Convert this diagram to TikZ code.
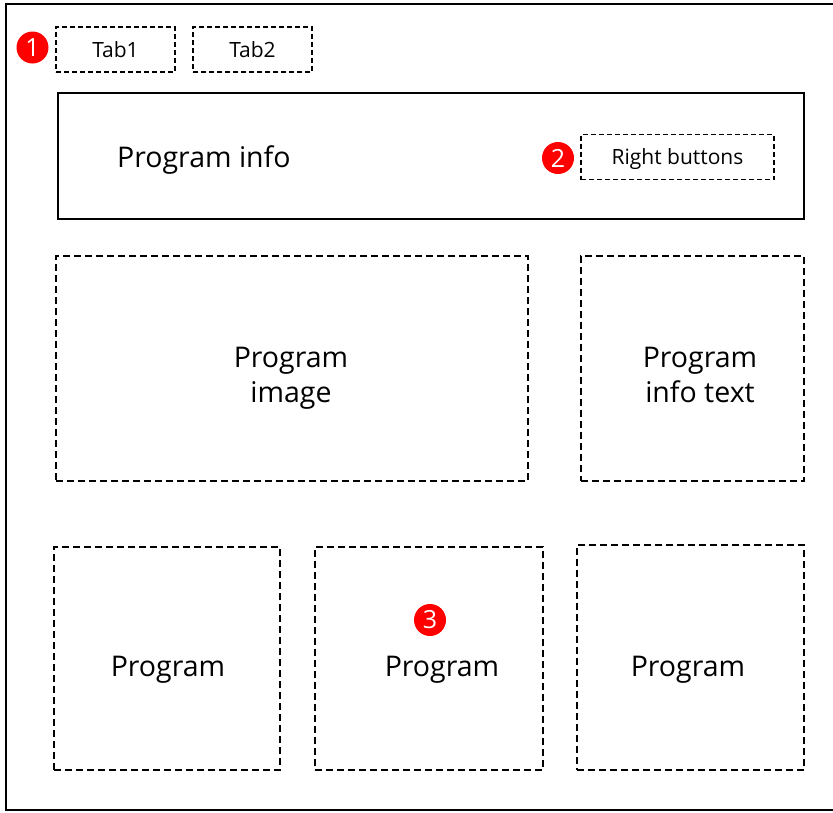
\documentclass[tikz,border=0pt]{standalone}
\usepackage{fontspec}
\setmainfont{Open Sans}
\usepackage{tikz}

\tikzset{
  tabbox/.style={draw, line width=1.4pt, dash pattern=on 5pt off 3pt,
    minimum width=119pt, minimum height=45pt, inner sep=0pt,
    text height=15pt, text depth=0pt, font=\fontsize{21}{24}\selectfont},
  slotbox/.style={draw, line width=2pt, dash pattern=on 7pt off 4pt, inner sep=0pt},
  slotlabel/.style={anchor=base, inner sep=0pt, align=center,
    font=\fontsize{28.5}{35}\selectfont},
  badge/.style={circle, fill=red, text=white, minimum size=32pt, inner sep=0pt,
    font=\fontsize{25}{25}\selectfont},
}

\begin{document}
\begin{tikzpicture}[x=1pt, y=-1pt]
                    \useasboundingbox (0,0) rectangle (833,812);
                    \begin{scope}
                    \clip (0,0) rectangle (833,812);
                    \draw[line width=2.6pt] (6,4) rectangle (840,810);
                    \end{scope}

                    % tabs
                    \node[tabbox] (tab1) at (115.5,49.5) {Tab1};
                    \node[tabbox] (tab2) at (252.5,49.5) {Tab2};
                    \node[badge] (b1) at (32.5,47.5) {1};

                    % program info bar
                    \node[draw, line width=2.2pt, minimum width=746pt, minimum height=126pt, inner sep=0pt]
                        (info) at (431,156) {};
                    \node[slotlabel, anchor=base west] (infolabel) at (117,167) {Program info};
                    \node[tabbox, minimum width=193pt] (btns) at (677.5,157) {Right buttons};
                    \node[badge] (b2) at (558,158) {2};

                    % image and text
                    \node[slotbox, minimum width=472pt, minimum height=225pt] (image) at (292,368.5) {};
                    \node[slotbox, minimum width=223pt, minimum height=225pt] (itext) at (692.5,368.5) {};
                    \node[slotlabel] (imagelabel) at (291,402) {Program\\image};
                    \node[slotlabel] (itextlabel) at (700,402) {Program\\info text};

                    % program slots
                    \node[slotbox, minimum width=226pt, minimum height=223pt] (prog1) at (167,658.5) {};
                    \node[slotbox, minimum width=228pt, minimum height=223pt] (prog2) at (429,658.5) {};
                    \node[slotbox, minimum width=227pt, minimum height=225pt] (prog3) at (690.5,657.5) {};
                    \node[slotlabel] (prog1label) at (168,676) {Program};
                    \node[slotlabel] (prog2label) at (442,676) {Program};
                    \node[slotlabel] (prog3label) at (688,676) {Program};
                    \node[badge] (b3) at (430,620) {3};
                \end{tikzpicture}
\end{document}
